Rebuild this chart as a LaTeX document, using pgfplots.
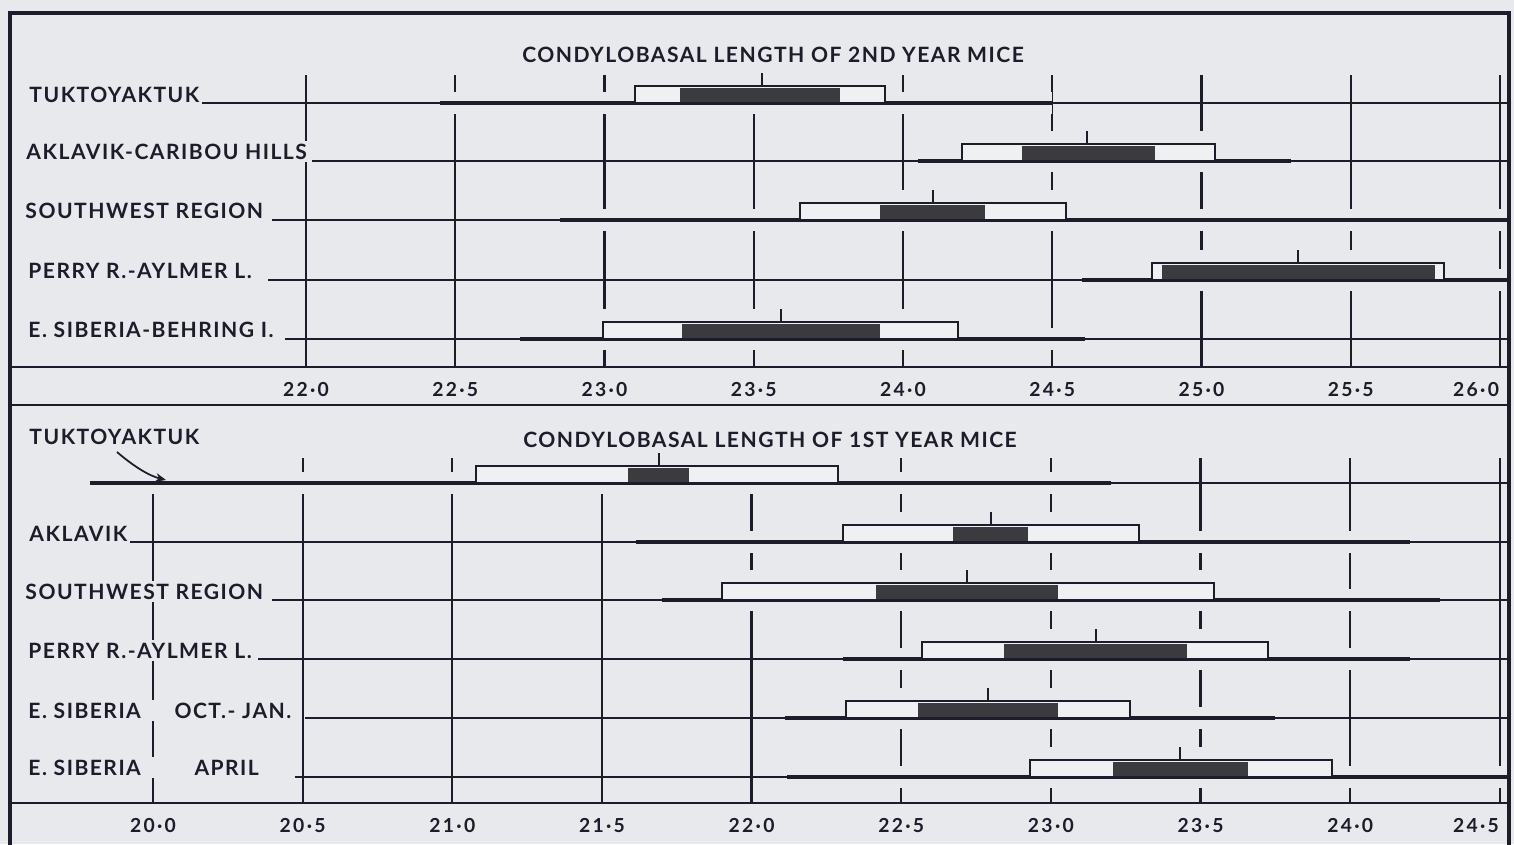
\documentclass[border=0pt]{standalone}
\usepackage{pgfplots}
\pgfplotsset{compat=1.18}
\usepackage{fontspec}
\setmainfont{Lato}
\newfontfamily\lbfont[LetterSpace=7]{Lato}
\newfontfamily\tkfont[LetterSpace=12]{Lato}
\usetikzlibrary{arrows.meta}
\definecolor{bg}{HTML}{E8E9ED}
\definecolor{bgl}{HTML}{EFF0F2}
\definecolor{ink}{HTML}{1C1C2A}
\definecolor{dark}{HTML}{3A3A3F}
\newcommand{\lf}{\lbfont\bfseries\fontsize{12}{14}\selectfont}
\newcommand{\tf}{\tkfont\bfseries\fontsize{11}{13}\selectfont}
% row: #1 row px, #2 rmin, #3 rmax, #4 omin, #5 omax, #6 dmin, #7 dmax, #8 mean, #9 guide start
\newcommand{\drow}[9]{%
 \pgfmathsetmacro\yr{-#1}%
 \pgfmathsetmacro\ylo{-#1-11}%
 \pgfmathsetmacro\yhi{-#1+11}%
 \pgfmathsetmacro\ybhi{-#1+30}%
 \pgfmathsetmacro\ybox{-#1+17}%
 \pgfmathsetmacro\ydk{-#1+15}%
 \pgfmathsetmacro\ydkb{-#1+1.5}%
 \pgfmathsetmacro\ymt{-#1+30}%
 \addplot[draw=none,fill=bg] coordinates {(#2,\ylo) (#3,\ylo) (#3,\yhi) (#2,\yhi)} --cycle;
 \addplot[draw=none,fill=bg] coordinates {(#4,\ylo) (#5,\ylo) (#5,\ybhi) (#4,\ybhi)} --cycle;
 \addplot[ink,line width=1.1pt] coordinates {(#9,\yr) (\xR,\yr)};
 \addplot[ink,line width=2pt] coordinates {(#2,\yr) (#3,\yr)};
 \addplot[ink,line width=1.1pt,fill=bgl] coordinates {(#4,\yr) (#4,\ybox) (#5,\ybox) (#5,\yr)} --cycle;
 \addplot[draw=none,fill=dark] coordinates {(#6,\ydkb) (#7,\ydkb) (#7,\ydk) (#6,\ydk)} --cycle;
 \addplot[ink,line width=1.2pt] coordinates {(#8,\ybox) (#8,\ymt)};
}
\newcommand{\gl}[3]{\addplot[ink,line width=1.3pt] coordinates {(#1,#2) (#1,#3)};}
\pgfplotsset{myax/.style={scale only axis, width=29.98cm, clip=false, hide y axis,
  axis x line*=bottom, axis line style={-}, x axis line style={ink,line width=1.3pt},
  major tick length=0pt, xticklabel style={font=\tf, text=ink, yshift=-5pt},
  extra x tick style={xticklabel style={anchor=north east, xshift=3pt}}}}
\begin{document}
\begin{tikzpicture}
\useasboundingbox (0,0) rectangle (30.28cm,-16.88cm);
\fill[bg] (0,0) rectangle (30.28cm,-16.88cm);
% ---------------- top panel: 2nd year mice
\def\xR{26.0302}
\begin{axis}[myax, at={(0.2cm,-0.26cm)}, anchor=north west, height=7.08cm,
  xmin=21.00838, xmax=26.0302, ymin=-367, ymax=-13,
  xtick={22,22.5,23,23.5,24,24.5,25,25.5},
  xticklabels={22·0,22·5,23·0,23·5,24·0,24·5,25·0,25·5},
  extra x ticks={26}, extra x tick labels={26·0}]
\gl{22}{-75}{-367}\gl{22.5}{-75}{-367}\gl{23}{-75}{-367}\gl{23.5}{-75}{-367}
\gl{24}{-75}{-367}\gl{24.5}{-75}{-367}\gl{25}{-75}{-367}\gl{25.5}{-75}{-367}\gl{26}{-75}{-367}
\drow{103}{22.45}{24.50}{23.102}{23.940}{23.253}{23.789}{23.528}{21.645}
\drow{161}{24.05}{25.30}{24.198}{25.045}{24.399}{24.844}{24.616}{22.020}
\drow{220}{22.85}{26.03}{23.655}{24.546}{23.923}{24.275}{24.100}{21.886}
\drow{280}{24.60}{26.03}{24.834}{25.812}{24.868}{25.782}{25.323}{21.873}
\drow{339}{22.717}{24.61}{22.995}{24.184}{23.260}{23.923}{23.591}{21.930}
\end{axis}
% ---------------- bottom panel: 1st year mice
\def\xR{24.5306}
\begin{axis}[myax, at={(0.2cm,-8.1cm)}, anchor=north west, height=7.96cm,
  xmin=19.5222, xmax=24.5306, ymin=-803, ymax=-405,
  xtick={20,20.5,21,21.5,22,22.5,23,23.5,24},
  xticklabels={20·0,20·5,21·0,21·5,22·0,22·5,23·0,23·5,24·0},
  extra x ticks={24.5}, extra x tick labels={24·5}]
\gl{20}{-494}{-803}\gl{20.5}{-458}{-803}\gl{21}{-458}{-803}\gl{21.5}{-458}{-803}
\gl{22}{-458}{-803}\gl{22.5}{-458}{-803}\gl{23}{-458}{-803}\gl{23.5}{-458}{-803}
\gl{24}{-458}{-803}\gl{24.5}{-458}{-803}
\drow{483}{19.789}{23.20}{21.079}{22.289}{21.587}{21.791}{21.691}{19.789}
\drow{542}{21.614}{24.20}{22.305}{23.294}{22.673}{22.923}{22.800}{19.916}
\drow{600}{21.70}{24.30}{21.901}{23.545}{22.416}{23.024}{22.720}{20.398}
\drow{659}{22.305}{24.20}{22.569}{23.725}{22.843}{23.455}{23.151}{20.351}
\drow{718}{22.110}{23.75}{22.315}{23.264}{22.556}{23.024}{22.790}{20.508}
\drow{777}{22.118}{24.527}{22.930}{23.939}{23.207}{23.659}{23.431}{20.474}
\end{axis}
% frame
\draw[ink,line width=1.8pt] (0.2cm,-17cm) -- (0.2cm,-0.26cm) -- (30.18cm,-0.26cm) -- (30.18cm,-17cm);
\draw[ink,line width=1.5pt] (0.2cm,-8.1cm) -- (30.18cm,-8.1cm);
% titles
\node[font=\lf,text=ink,anchor=base] at (15.46cm,-1.24cm) {CONDYLOBASAL LENGTH OF 2ND YEAR MICE};
\node[font=\lf,text=ink,anchor=base] at (15.40cm,-8.94cm) {CONDYLOBASAL LENGTH OF 1ST YEAR MICE};
% row labels
\tikzset{lbl/.style={font=\lf,text=ink,anchor=base west,fill=bg,inner sep=1.5pt}}
\node[lbl] at (0.53cm,-2.04cm) {TUKTOYAKTUK};
\node[lbl] at (0.47cm,-3.18cm) {AKLAVIK-CARIBOU HILLS};
\node[lbl] at (0.45cm,-4.36cm) {SOUTHWEST REGION};
\node[lbl] at (0.51cm,-5.56cm) {PERRY R.-AYLMER L.};
\node[lbl] at (0.51cm,-6.74cm) {E. SIBERIA-BEHRING I.};
\node[lbl] at (0.53cm,-8.88cm) {TUKTOYAKTUK};
\node[lbl] at (0.53cm,-10.82cm) {AKLAVIK};
\node[lbl] at (0.45cm,-11.98cm) {SOUTHWEST REGION};
\node[lbl] at (0.51cm,-13.16cm) {PERRY R.-AYLMER L.};
\node[lbl] at (0.51cm,-14.36cm) {\makebox[2.92cm][l]{E. SIBERIA}OCT.- JAN.};
\node[lbl] at (0.51cm,-15.5cm) {\makebox[3.32cm][l]{E. SIBERIA}APRIL};
\draw[ink,line width=1pt,-{Stealth[length=6pt,width=5pt]}] (2.34cm,-9.04cm) .. controls (2.7cm,-9.35cm) and (3.0cm,-9.52cm) .. (3.32cm,-9.6cm);
\end{tikzpicture}
\end{document}
